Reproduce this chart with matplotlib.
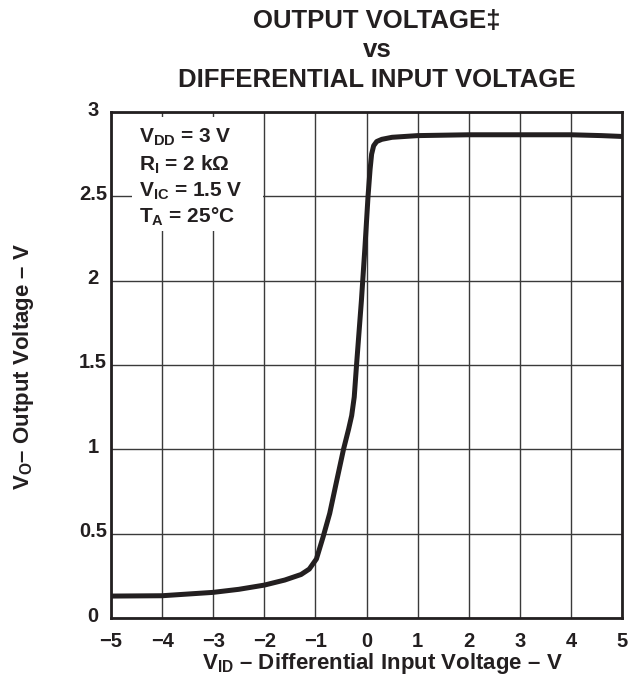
import matplotlib
matplotlib.use("Agg")
import matplotlib.pyplot as plt
import matplotlib.transforms as mtransforms
from matplotlib.patches import Rectangle

plt.rcParams['font.family'] = ['Liberation Sans', 'DejaVu Sans']
plt.rcParams['font.weight'] = 'bold'
plt.rcParams['mathtext.fontset'] = 'custom'
plt.rcParams['mathtext.rm'] = 'Liberation Sans:bold'
plt.rcParams['mathtext.bf'] = 'Liberation Sans:bold'
plt.rcParams['mathtext.default'] = 'bf'

# curve
vid = [-5, -4, -3, -2.5, -2, -1.6, -1.28, -1.12, -0.98, -0.85, -0.72, -0.6,
       -0.45, -0.35, -0.29, -0.24, -0.195, -0.1, -0.03, 0.03, 0.07, 0.1, 0.14,
       0.2, 0.3, 0.5, 1.0, 2.0, 3.0, 4.0, 4.6, 5.0]
vo = [0.13, 0.132, 0.152, 0.17, 0.195, 0.225, 0.258, 0.29, 0.35, 0.48, 0.62, 0.79,
      1.0, 1.12, 1.2, 1.31, 1.5, 1.88, 2.2, 2.5, 2.66, 2.75, 2.8,
      2.825, 2.838, 2.85, 2.86, 2.865, 2.865, 2.865, 2.86, 2.855]

xticks = [-5, -4, -3, -2, -1, 0, 1, 2, 3, 4, 5]
yticks = [0, 0.5, 1, 1.5, 2, 2.5, 3]
ytick_labels = ['0', '0.5', '1', '1.5', '2', '2.5', '3']

conditions = [r'V$_{DD}$ = 3 V', r'R$_{I}$ = 2 k$\Omega$',
              r'V$_{IC}$ = 1.5 V', r'T$_{A}$ = 25°C']

ink = '#231f20'

fig = plt.figure(figsize=(6.37, 6.81), dpi=100)
ax = fig.add_axes([111 / 637, 1 - 618 / 681, 511 / 637, 506 / 681])

ax.plot(vid, vo, color=ink, lw=3.6, solid_joinstyle='round',
        solid_capstyle='butt', zorder=4)

ax.set_xlim(-5, 5)
ax.set_ylim(0, 3)
ax.set_xticks(xticks)
ax.set_xticklabels([str(t).replace('-', '\u2212') for t in xticks])
ax.set_yticks(yticks)
ax.set_yticklabels(ytick_labels)
ax.tick_params(length=0, labelsize=14.5, colors=ink)
ax.tick_params(axis='x', pad=10)
ax.tick_params(axis='y', pad=13)
shift = mtransforms.ScaledTranslation(0, 4 / 100, fig.dpi_scale_trans)
for lab in ax.get_yticklabels():
    lab.set_ha('center')
    lab.set_transform(lab.get_transform() + shift)
for lab in ax.get_xticklabels() + ax.get_yticklabels():
    lab.set_fontweight('bold')

ax.grid(True, color='#3a3a3a', lw=1.0)
ax.set_axisbelow(True)
for s in ax.spines.values():
    s.set_linewidth(2.0)
    s.set_color(ink)

# white box behind the test conditions
ax.add_patch(Rectangle((0.041, 0.765), 0.256, 0.225, transform=ax.transAxes,
                       facecolor='white', edgecolor='none', zorder=2))
baselines = [143, 171, 197, 223]
for txt, yb in zip(conditions, baselines):
    ax.text((139 - 111) / 511, (618 - yb) / 506, txt, transform=ax.transAxes,
            ha='left', va='baseline', fontsize=15, fontweight='bold',
            color=ink, zorder=3)

title_lines = ['OUTPUT VOLTAGE\u2021', 'vs', 'DIFFERENTIAL INPUT VOLTAGE']
for line, yc in zip(title_lines, [21, 50, 80]):
    fig.text(377 / 637, 1 - yc / 681, line, ha='center', va='center',
             fontsize=18.5, fontweight='bold', color=ink)

fig.text(382 / 637, 1 - 663 / 681, r'V$_{ID}$ – Differential Input Voltage – V',
         ha='center', va='center', fontsize=16, fontweight='bold', color=ink)
fig.text(24 / 637, 1 - 366 / 681, r'V$_{O}$– Output Voltage – V', rotation=90,
         ha='center', va='center', fontsize=16, fontweight='bold', color=ink)

fig.savefig('out.png', dpi=100)
